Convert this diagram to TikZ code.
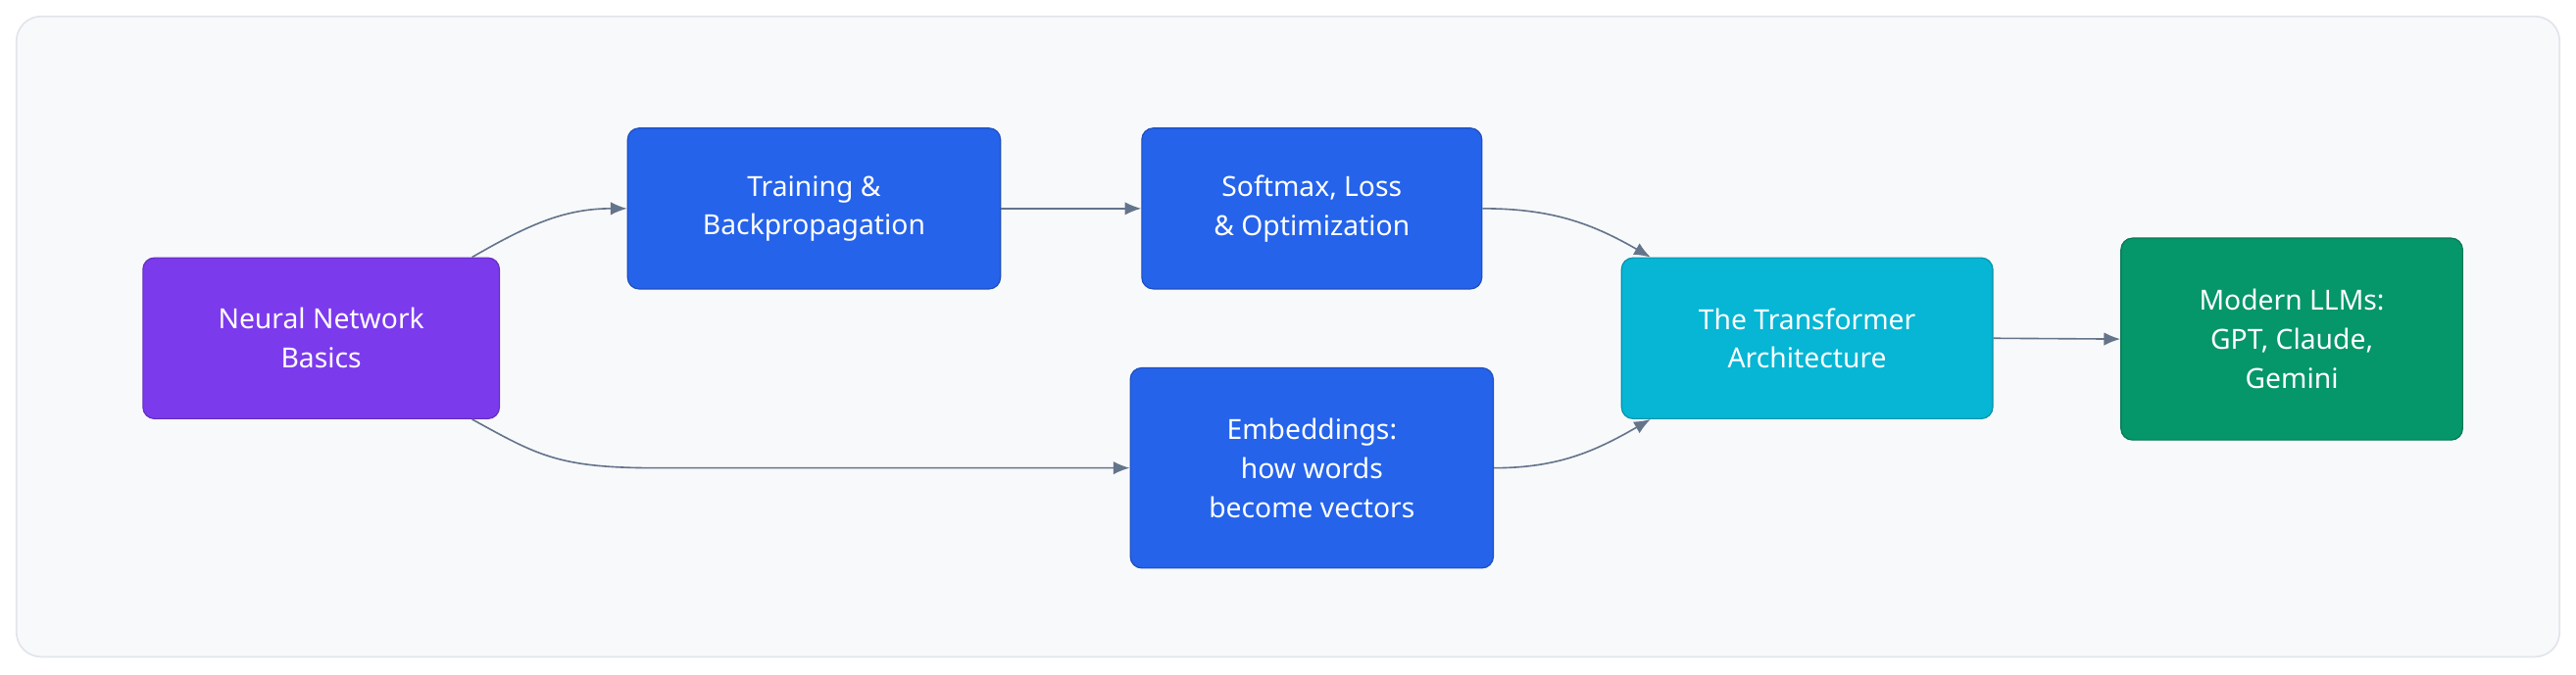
\documentclass[tikz,border=0pt]{standalone}
\usepackage{fontspec}
\setmainfont{Noto Sans}
\usetikzlibrary{positioning, arrows.meta, calc}
\definecolor{nnpurple}{HTML}{7C3AED}
\definecolor{stepblue}{HTML}{2563EB}
\definecolor{tfcyan}{HTML}{06B6D4}
\definecolor{llmgreen}{HTML}{059669}
\definecolor{edgegray}{HTML}{64748B}
\definecolor{panelgray}{HTML}{F8F9FB}
\definecolor{panelline}{HTML}{E2E5EA}

\begin{document}
\begin{tikzpicture}[x=0.02cm, y=-0.02cm,
  box/.style={rounded corners=0.14cm, draw=#1!80!black, fill=#1, text=white,
    align=center, font=\fontsize{9.6}{13.5}\selectfont, inner sep=0pt},
  flow/.style={draw=edgegray, line width=0.55pt, -{Latex[length=0.2cm,width=0.16cm]}}]
\useasboundingbox (0,0) rectangle (1568,410.5);

% Panel
\draw[panelline, fill=panelgray, rounded corners=0.3cm, line width=0.6pt] (10,10) rectangle (1558,400);

% Steps
\node[box=nnpurple, minimum width=4.34cm, minimum height=1.96cm] (nn) at (195.5,206) {Neural Network\\Basics};
\node[box=stepblue, minimum width=4.54cm, minimum height=1.96cm] (train) at (495.5,127) {Training \&\\Backpropagation};
\node[box=stepblue, minimum width=4.14cm, minimum height=1.96cm] (soft) at (798.5,127) {Softmax, Loss\\\& Optimization};
\node[box=stepblue, minimum width=4.42cm, minimum height=2.44cm] (emb) at (798.5,285) {Embeddings:\\how words\\become vectors};
\node[box=tfcyan, minimum width=4.52cm, minimum height=1.96cm] (tf) at (1100,206) {The Transformer\\Architecture};
\node[box=llmgreen, minimum width=4.16cm, minimum height=2.46cm] (llm) at (1395,206.5) {Modern LLMs:\\GPT, Claude,\\Gemini};

% Connectors
\coordinate (bend) at ($(emb.west)+(-288,0)$);
\draw[flow] ([xshift=-0.34cm]nn.north east) to[out=30, in=180] (train.west);
\draw[flow] ([xshift=-0.34cm]nn.south east) .. controls +(40,22) and +(-60,0) .. (bend) -- (emb.west);
\draw[flow] (train.east) -- (soft.west);
\draw[flow] (soft.east) to[out=0, in=150] ([xshift=0.36cm]tf.north west);
\draw[flow] (emb.east) to[out=0, in=-150] ([xshift=0.36cm]tf.south west);
\draw[flow] (tf.east) -- (llm.west);
\end{tikzpicture}
\end{document}
